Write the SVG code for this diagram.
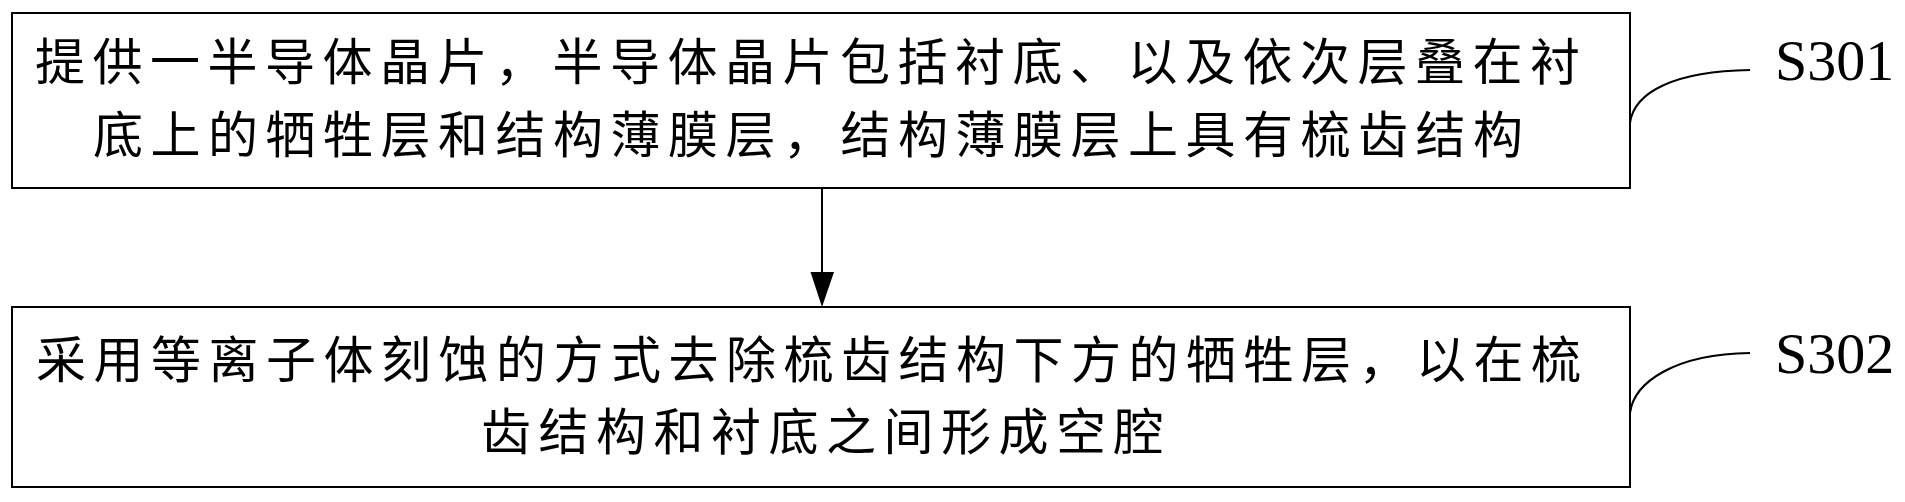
<svg xmlns="http://www.w3.org/2000/svg" width="1905" height="502" viewBox="0 0 1905 502">
<style>
.box{fill:#fff;stroke:#000;stroke-width:2}
.cn{font-family:"Noto Sans CJK SC","Noto Sans CJK JP",sans-serif;font-size:50px;letter-spacing:7.5px;fill:#000}
.lbl{font-family:"Liberation Serif","Times New Roman",serif;font-size:58px;fill:#000}
.conn{fill:none;stroke:#000;stroke-width:2}
</style>
<rect width="1905" height="502" fill="#fff"/>
<g id="node-s301">
<rect class="box" x="12" y="13" width="1618" height="175"/>
<text class="cn" x="35" y="80">提供一半导体晶片，半导体晶片包括衬底、以及依次层叠在衬</text>
<text class="cn" x="93" y="153">底上的牺牲层和结构薄膜层，结构薄膜层上具有梳齿结构</text>
</g>
<g id="node-s302">
<rect class="box" x="12" y="307" width="1618" height="180"/>
<text class="cn" x="36" y="378">采用等离子体刻蚀的方式去除梳齿结构下方的牺牲层，以在梳</text>
<text class="cn" x="481" y="450">齿结构和衬底之间形成空腔</text>
</g>
<g id="label-s301">
<text class="lbl" x="1775" y="80">S301</text>
</g>
<g id="label-s302">
<text class="lbl" x="1775" y="373">S302</text>
</g>
<g id="connectors">
<line class="conn" x1="822" y1="188" x2="822" y2="274"/>
<polygon points="810.5,272 834,272 822,307" fill="#000"/>
<path class="conn" d="M1630,123 C1634,92 1675,71 1750,70"/>
<path class="conn" d="M1630,413 C1634,382 1675,354 1750,353"/>
</g>
</svg>
